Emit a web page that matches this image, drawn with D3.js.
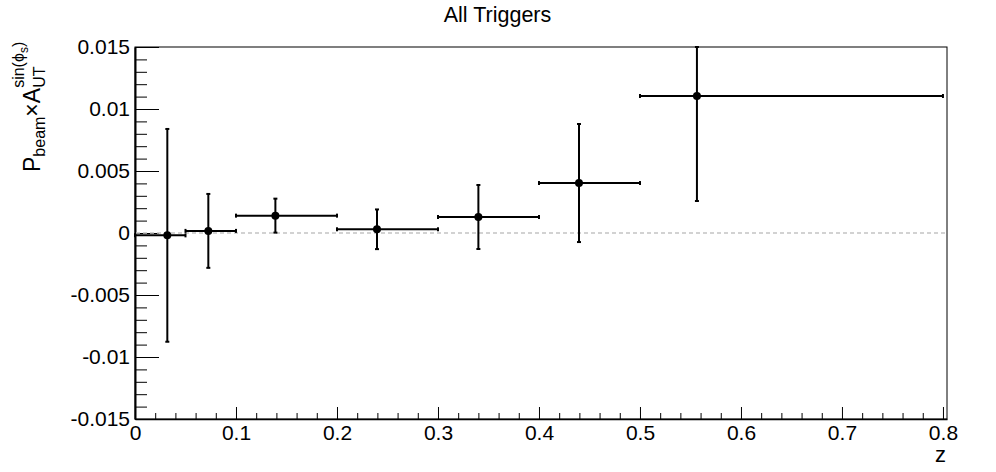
<!DOCTYPE html>
<html><head><meta charset="utf-8">
<script src="https://cdn.jsdelivr.net/npm/d3@7"></script>
<style>body{margin:0;background:#fff}text{font-family:"Liberation Sans",Arial,sans-serif;fill:#000}</style>
</head><body><svg id="c" width="996" height="472"></svg>
<script>
// ---- data ----
const zCenter = [0.032, 0.0726, 0.139, 0.2396, 0.340, 0.4396, 0.5564];
const zLow    = [0.0, 0.05, 0.1, 0.2, 0.3, 0.4, 0.5];
const zHigh   = [0.05, 0.1, 0.2, 0.3, 0.4, 0.5, 0.8];
const asym    = [-0.00019, 0.00017, 0.0014, 0.0003, 0.00129, 0.00403, 0.01105];
const asymErr = [0.00858, 0.00298, 0.00137, 0.0016, 0.00258, 0.00476, 0.00847];
const xTickValues = [0, 0.1, 0.2, 0.3, 0.4, 0.5, 0.6, 0.7, 0.8];
const xTickLabels = ["0", "0.1", "0.2", "0.3", "0.4", "0.5", "0.6", "0.7", "0.8"];
const yTickValues = [-0.015, -0.01, -0.005, 0, 0.005, 0.01, 0.015];
const yTickLabels = ["-0.015", "-0.01", "-0.005", "0", "0.005", "0.01", "0.015"];
const xDomain = [0, 0.804];
const yDomain = [-0.015, 0.015];

const W = 996, H = 472;
const L = 135, R = 947, T = 47, B = 419;
const svg = d3.select("#c");
svg.append("rect").attr("width", W).attr("height", H).attr("fill", "#fff");

const x = d3.scaleLinear().domain(xDomain).range([L, R]);
const y = d3.scaleLinear().domain(yDomain).range([B, T]);

// frame
svg.append("rect").attr("x", L).attr("y", T).attr("width", R - L).attr("height", B - T)
  .attr("fill", "none").attr("stroke", "#000").attr("stroke-width", 1);

// minor ticks
const xMinor = d3.range(0, 41).map(i => i * 0.02).filter(v => Math.abs(v * 10 - Math.round(v * 10)) > 1e-6 && v <= xDomain[1]);
const yMinor = d3.range(-15, 16).map(i => i * 0.001).filter(v => Math.abs(v * 200 - Math.round(v * 200)) > 1e-6);

svg.append("g").attr("transform", `translate(0,${B})`)
  .call(d3.axisBottom(x).tickValues(xMinor).tickSize(-6).tickSizeOuter(0).tickFormat(""))
  .call(g => g.select(".domain").remove());
svg.append("g").attr("transform", `translate(${L},0)`)
  .call(d3.axisLeft(y).tickValues(yMinor).tickSize(-12).tickSizeOuter(0).tickFormat(""))
  .call(g => g.select(".domain").remove());

// major axes
const xAxis = svg.append("g").attr("transform", `translate(0,${B})`)
  .call(d3.axisBottom(x).tickValues(xTickValues).tickSize(-12).tickSizeOuter(0).tickPadding(6)
    .tickFormat((d, i) => xTickLabels[i]));
xAxis.select(".domain").attr("stroke-width", 1.3);
xAxis.selectAll("text").attr("font-size", 21).attr("font-family", "Liberation Sans, Arial, sans-serif");

const yAxis = svg.append("g").attr("transform", `translate(${L},0)`)
  .call(d3.axisLeft(y).tickValues(yTickValues).tickSize(-24).tickSizeOuter(0).tickPadding(5)
    .tickFormat((d, i) => yTickLabels[i]));
yAxis.select(".domain").attr("stroke-width", 2);
yAxis.selectAll("text").attr("font-size", 21).attr("font-family", "Liberation Sans, Arial, sans-serif");
svg.selectAll(".tick line").attr("stroke", "#000").attr("stroke-width", 1);

// zero line
svg.append("line").attr("x1", L + 1).attr("x2", R).attr("y1", y(0)).attr("y2", y(0))
  .attr("stroke", "#c4c4c4").attr("stroke-width", 1.5).attr("stroke-dasharray", "4,3");

// error bars + markers
const clampY = v => Math.max(yDomain[0], Math.min(yDomain[1], v));
const pts = zCenter.map((z, i) => ({ z, lo: zLow[i], hi: zHigh[i], v: asym[i], e: asymErr[i] }));
const gp = svg.append("g");
const cap = 2;
pts.forEach(p => {
  const cx = x(p.z), cy = y(p.v);
  const yTop = y(clampY(p.v + p.e)), yBot = y(clampY(p.v - p.e));
  const xl = x(p.lo), xr = x(p.hi);
  gp.append("line").attr("x1", xl).attr("x2", xr).attr("y1", cy).attr("y2", cy)
    .attr("stroke", "#000").attr("stroke-width", 2);
  gp.append("line").attr("x1", cx).attr("x2", cx).attr("y1", yTop).attr("y2", yBot)
    .attr("stroke", "#000").attr("stroke-width", 2);
  [[xl, cy, 0], [xr, cy, 0], [cx, yTop, 1], [cx, yBot, 1]].forEach(([a, b, vert]) => {
    if (vert) gp.append("line").attr("x1", a - cap).attr("x2", a + cap).attr("y1", b).attr("y2", b)
      .attr("stroke", "#000").attr("stroke-width", 2);
    else gp.append("line").attr("x1", a).attr("x2", a).attr("y1", b - cap).attr("y2", b + cap)
      .attr("stroke", "#000").attr("stroke-width", 2);
  });
  gp.append("circle").attr("cx", cx).attr("cy", cy).attr("r", 4).attr("fill", "#000");
});

// title
svg.append("text").attr("x", 497.5).attr("y", 22).attr("text-anchor", "middle")
  .attr("font-size", 21.5).text("All Triggers");

// x label
svg.append("text").attr("x", 946).attr("y", 462).attr("text-anchor", "end")
  .attr("font-size", 22).text("z");

// y label (rotated, with sub/superscripts)
const gy = svg.append("g").attr("transform", "translate(40,172) rotate(-90)");
let pos = 0;
function piece(txt, size, dy, advance) {
  const t = gy.append("text").attr("x", pos).attr("y", dy).attr("font-size", size).text(txt);
  const w = t.node().getComputedTextLength();
  if (advance) pos += w;
  return w;
}
piece("P", 23, 0, true);
piece("beam", 16, 5, true);
piece("\u00D7", 23, 0, true);
piece("A", 23, 0, true);
const start = pos;
const wSub = piece("UT", 16, 5, false);
let w1 = piece("sin(\u03D5", 16, -16, true);
let w2 = piece("s", 12, -12, true);
let w3 = piece(")", 16, -16, true);
pos = start + Math.max(wSub, w1 + w2 + w3);
</script></body></html>
